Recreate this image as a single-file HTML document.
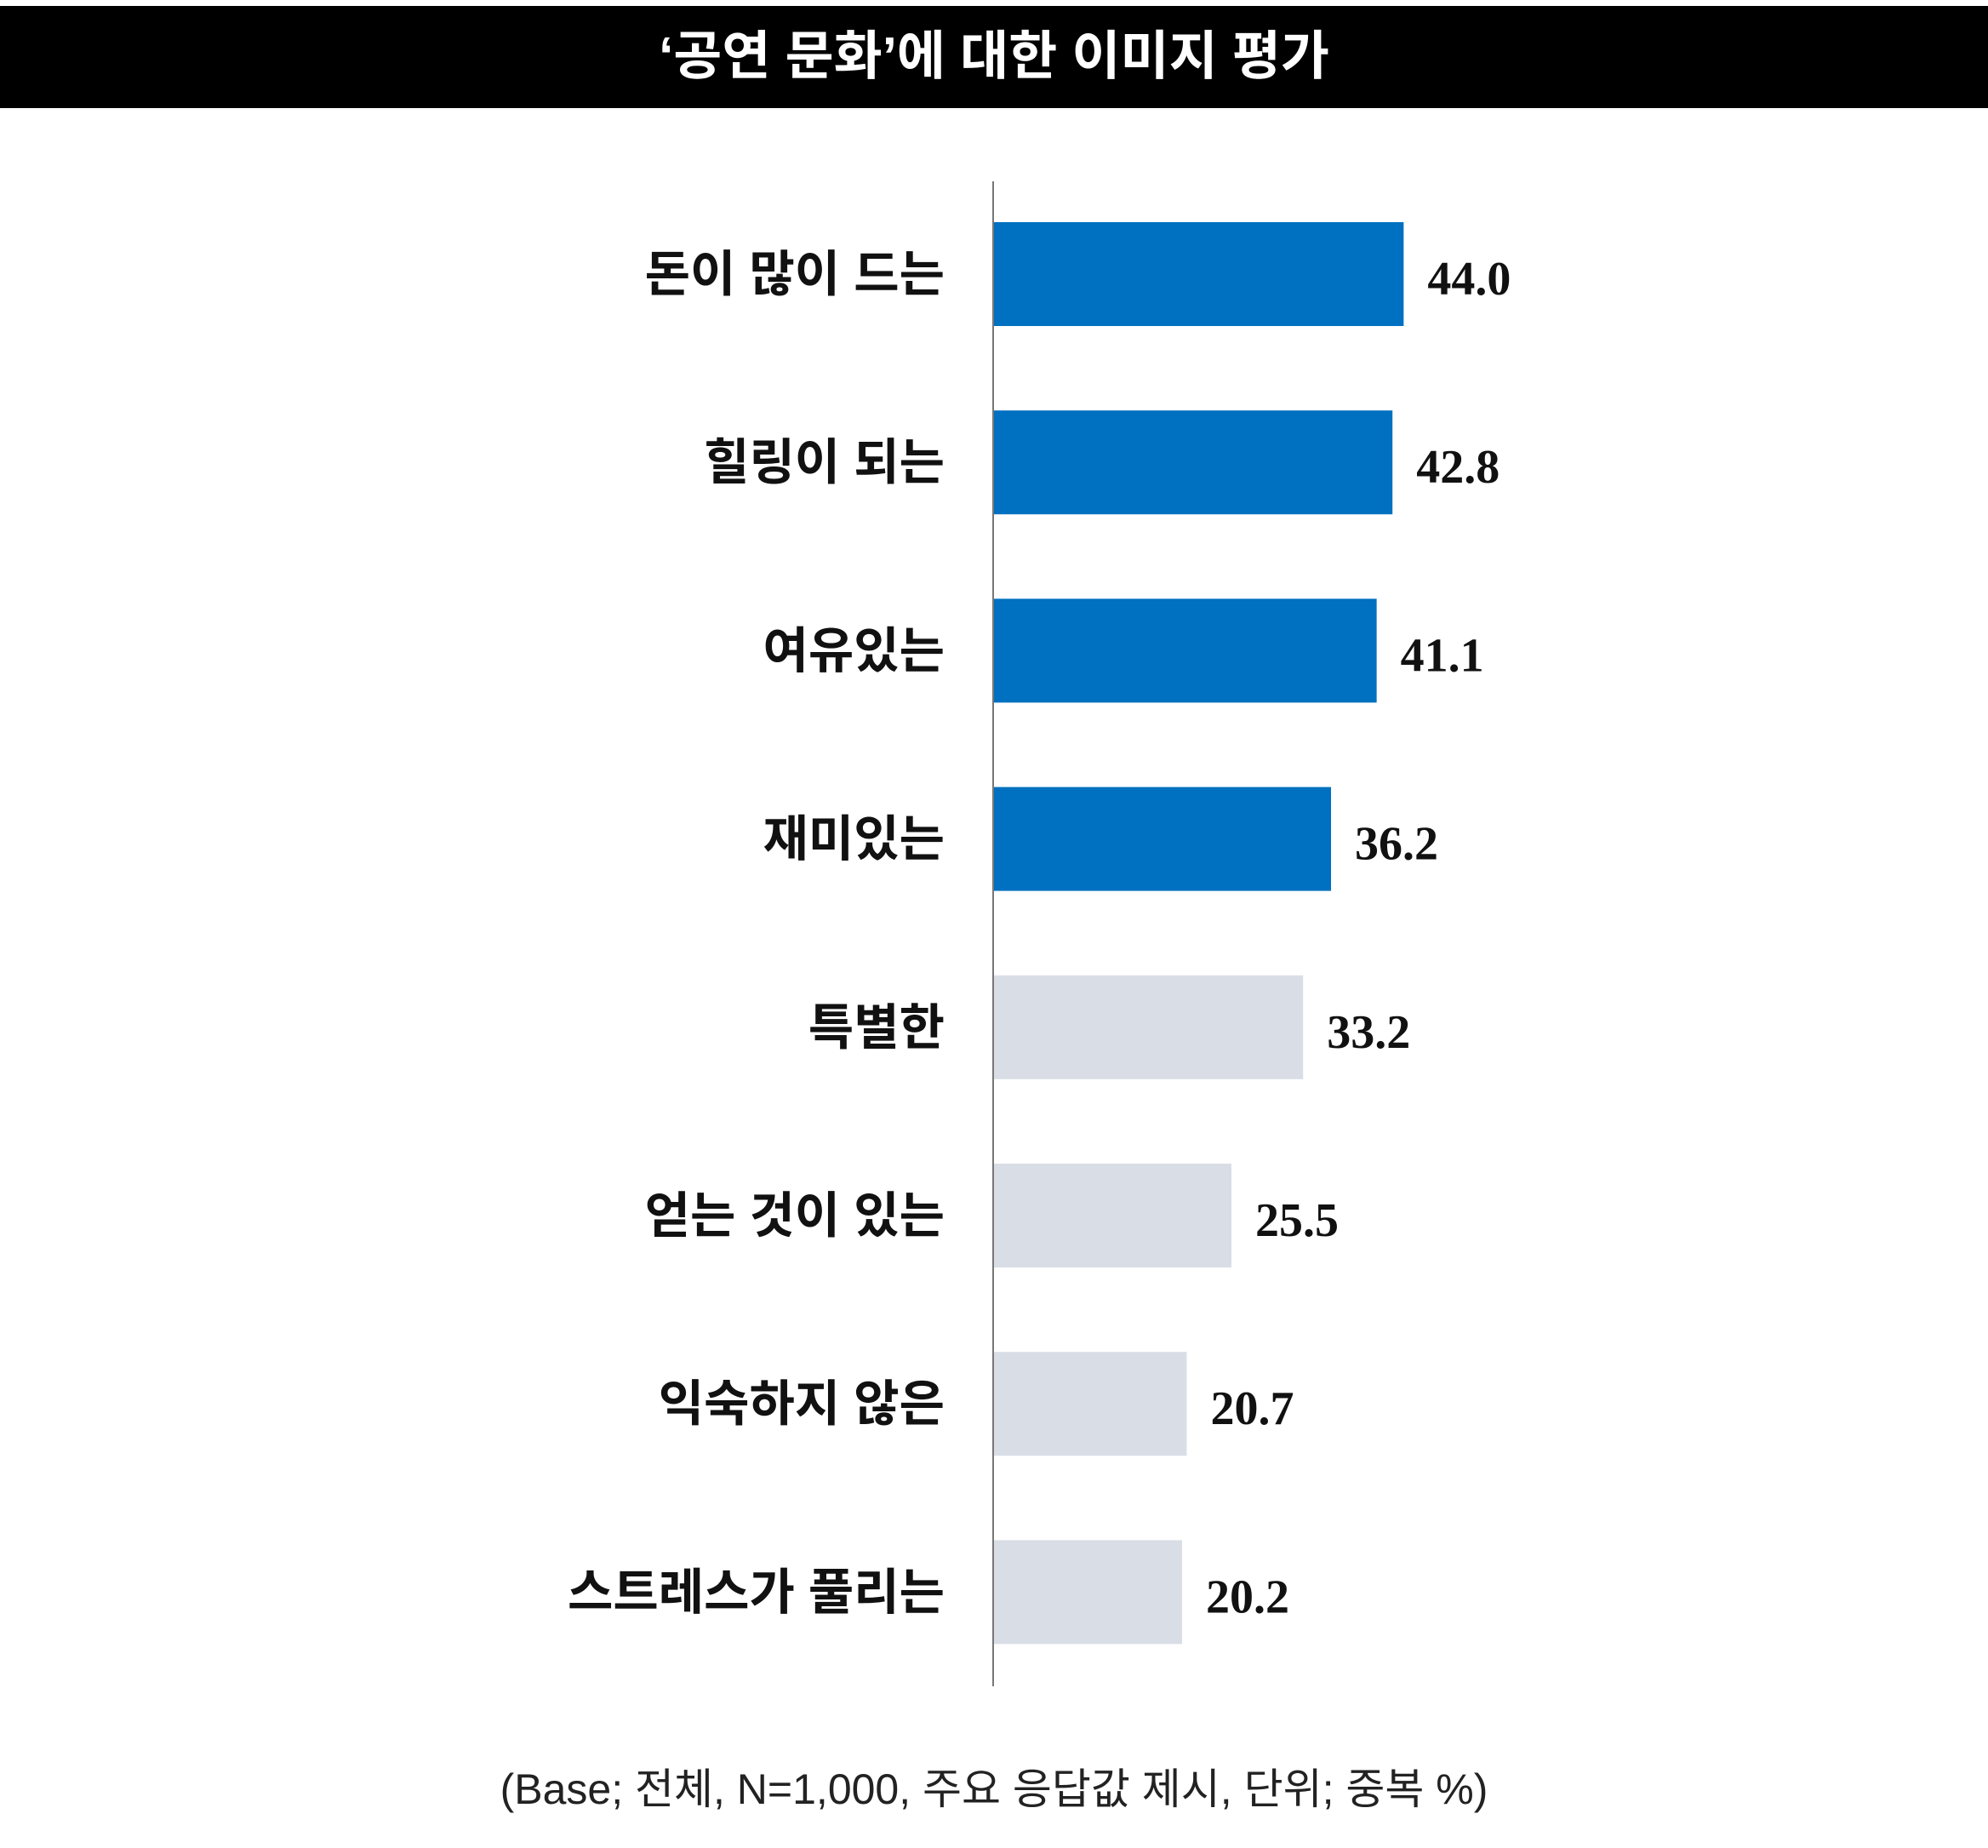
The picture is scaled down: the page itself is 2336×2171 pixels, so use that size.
<!DOCTYPE html>
<html><head><meta charset="utf-8">
<style>
html,body{margin:0;padding:0;background:#fff;}
body{width:2336px;height:2171px;position:relative;overflow:hidden;font-family:"Liberation Sans","Noto Sans CJK KR",sans-serif;}
#title{position:absolute;left:0;top:7px;width:2336px;height:120px;background:#000;color:#fff;font-size:62px;font-weight:bold;text-align:center;line-height:120px;}
#footer{position:absolute;left:0;width:2336px;top:2062px;text-align:center;font-size:50px;color:#222;}
</style></head>
<body>
<div id="title">‘공연 문화’에 대한 이미지 평가</div>
<svg id="chart" width="2336" height="2171" style="position:absolute;left:0;top:0"></svg>
<div id="footer">(Base; 전체, N=1,000, 주요 응답값 제시, 단위; 중복 %)</div>
<script>
const categories=["돈이 많이 드는","힐링이 되는","여유있는","재미있는","특별한","얻는 것이 있는","익숙하지 않은","스트레스가 풀리는"];
const values=[44.0,42.8,41.1,36.2,33.2,25.5,20.7,20.2];
const highlight=[true,true,true,true,false,false,false,false];
const NS="http://www.w3.org/2000/svg";
const svg=document.getElementById('chart');
const x0=1168, unit=10.94, top0=261, pitch=221.2, bh=122;
const xs=v=>x0+v*unit;
const ys=i=>top0+i*pitch;
const axis=document.createElementNS(NS,'line');


axis.setAttribute('x1',1167);axis.setAttribute('x2',1167);axis.setAttribute('y1',213);axis.setAttribute('y2',1981);
axis.setAttribute('stroke','#777');axis.setAttribute('stroke-width',2);
svg.appendChild(axis);
categories.forEach((c,i)=>{
  const r=document.createElementNS(NS,'rect');
  
  
  r.setAttribute('x',x0);r.setAttribute('y',ys(i));
  r.setAttribute('width',xs(values[i])-x0);r.setAttribute('height',bh);
  r.setAttribute('fill',highlight[i]?'#0070C0':'#D9DEE6');
  svg.appendChild(r);
  const t=document.createElementNS(NS,'text');
  
  
  t.setAttribute('x',1110);t.setAttribute('y',ys(i)+bh/2+20);
  t.setAttribute('text-anchor','end');t.setAttribute('font-size','58');t.setAttribute('font-weight','bold');
  t.setAttribute('fill','#111');
  t.textContent=c;svg.appendChild(t);
  const v=document.createElementNS(NS,'text');
  
  
  v.setAttribute('x',xs(values[i])+28);v.setAttribute('y',ys(i)+bh/2+24);
  v.setAttribute('font-size','56');v.setAttribute('font-weight','bold');
  v.setAttribute('font-family','Liberation Serif, serif');v.setAttribute('fill','#111');
  v.textContent=values[i].toFixed(1);svg.appendChild(v);
});
</script>
</body></html>
